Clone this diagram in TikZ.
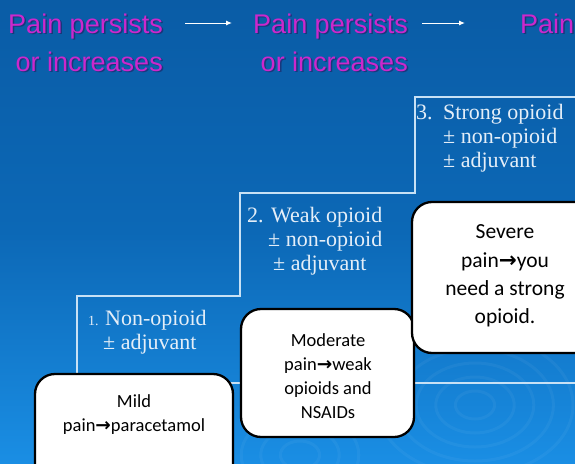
\documentclass[tikz,border=0pt]{standalone}
\usepackage{fontspec}
\setmainfont{Liberation Serif}
\newfontfamily\headfont{Liberation Sans}
\newfontfamily\boxfont{Carlito}
\newfontfamily\symfont{DejaVu Sans}
\usetikzlibrary{arrows.meta}
\definecolor{bgtop}{RGB}{10,92,166}
\definecolor{bgmid}{RGB}{12,104,182}
\definecolor{bgbot}{RGB}{26,142,228}
\definecolor{headcol}{RGB}{204,40,204}
\definecolor{headshade}{RGB}{40,10,70}
\definecolor{stepcol}{RGB}{200,225,245}
\definecolor{steptext}{RGB}{228,238,248}
\newcommand{\parr}{{\symfont\bfseries\char"2192}}
\begin{document}
\begin{tikzpicture}[x=1pt,y=-1pt,
  head/.style={font=\headfont\fontsize{27}{30}\selectfont, text=headcol, inner sep=0pt},
  headsh/.style={font=\headfont\fontsize{27}{30}\selectfont, text=headshade, opacity=0.45, inner sep=0pt},
  stair/.style={draw=stepcol, line width=1.3pt},
  steptxt/.style={font=\fontsize{22}{24}\selectfont, text=steptext, inner sep=0pt, anchor=base west},
  painbox/.style={draw=black, line width=2.3pt, fill=white, rounded corners=20pt},
  boxtxt/.style={font=\boxfont\fontsize{18.5}{24}\selectfont, align=center, inner sep=0pt},
  bigtxt/.style={font=\boxfont\fontsize{21.5}{28.3}\selectfont, align=center, inner sep=0pt},
  flow/.style={draw=white, line width=1pt, -{Latex[length=6pt,width=5pt]}},
  ripple/.style={draw=white, opacity=0.045, line width=3pt}]
\useasboundingbox (0,0) rectangle (575,463);
\clip (0,0) rectangle (575,463);
% background
\fill[top color=bgtop, bottom color=bgbot, middle color=bgmid] (0,0) rectangle (575,463);
% ripples
\foreach \r in {14,28,42,56,70}
  \draw[ripple] (475,405) ellipse ({1.4*\r} and {\r});
\foreach \r in {14,28,42}
  \draw[ripple] (300,455) ellipse ({1.4*\r} and {\r});
\foreach \r in {18,36}
  \draw[ripple] (130,455) ellipse ({1.4*\r} and {\r});
% header texts (shadow + text)
\foreach \xx/\yy/\tt in {163/33/Pain persists, 163/71/or increases, 408/33/Pain persists, 408/71/or increases}
  \node[headsh, anchor=base east] at (\xx+1.5,\yy+1.5) {\tt};
\node[headsh, anchor=base west] at (521.5,34.5) {Pain};
\node[head, anchor=base east] (h1a) at (163,33) {Pain persists};
\node[head, anchor=base east] (h1b) at (163,71) {or increases};
\node[head, anchor=base east] (h2a) at (408,33) {Pain persists};
\node[head, anchor=base east] (h2b) at (408,71) {or increases};
\node[head, anchor=base west] (h3a) at (520,33) {Pain};
\coordinate (a1s) at (185,23);
\coordinate (a1e) at (232,23);
\coordinate (a2s) at (422,23);
\coordinate (a2e) at (465,23);
\draw[flow] (a1s) -- (a1e);
\draw[flow] (a2s) -- (a2e);
% staircase
\draw[stair] (77,383) -- (77,296) -- (240,296) -- (240,193) -- (415,193) -- (415,97) -- (580,97);
\draw[stair] (77,383) -- (580,383);
% step texts
\node[steptxt, font=\fontsize{14}{16}\selectfont] (s1n) at (88,325) {1.};
\node[steptxt] (s1a) at (105,325) {Non-opioid};
\node[steptxt] (s1b) at (103,349) {± adjuvant};
\node[steptxt] (s2a) at (247,222) {2. Weak opioid};
\node[steptxt] (s2b) at (268,246) {± non-opioid};
\node[steptxt] (s2c) at (273,270) {± adjuvant};
\node[steptxt] (s3n) at (416,119) {3.};
\node[steptxt] (s3a) at (443,119) {Strong opioid};
\node[steptxt] (s3b) at (443,143) {± non-opioid};
\node[steptxt] (s3c) at (443,167) {± adjuvant};
% boxes
\path[painbox] (35,374) rectangle (233,500);
\node[boxtxt] (mild) at (134,415) {Mild\\pain\parr paracetamol};
\path[painbox] (241,309) rectangle (414,437);
\node[boxtxt] (moderate) at (328,376) {Moderate\\pain\parr weak\\opioids and\\NSAIDs};
\path[painbox] (412,202) rectangle (610,353);
\node[bigtxt] (severe) at (505,276) {Severe\\pain\parr you\\need a strong\\opioid.};
\end{tikzpicture}
\end{document}
